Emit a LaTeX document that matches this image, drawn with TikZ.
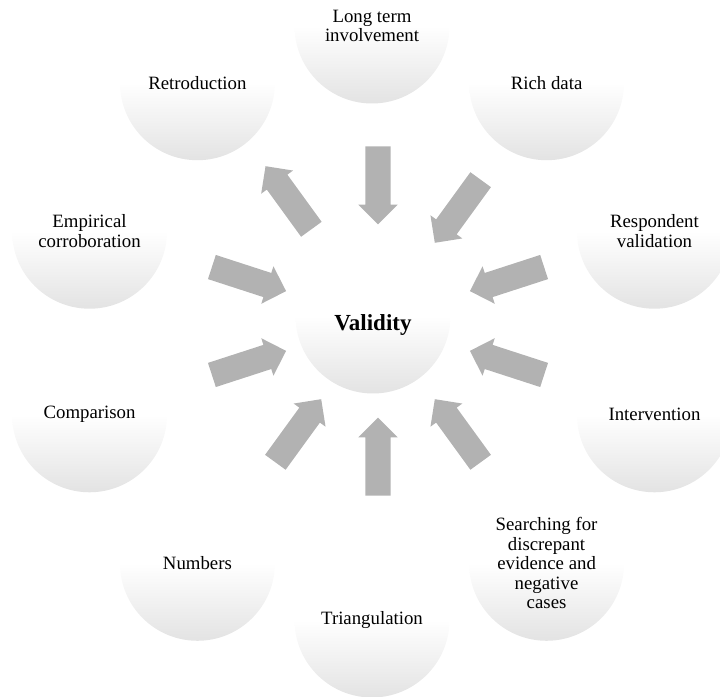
\documentclass[tikz,border=0pt]{standalone}
\usepackage{fontspec}
\setmainfont{Liberation Serif}
\usepackage{xcolor}
\usepackage{tikz}
\usetikzlibrary{shapes.arrows}

\tikzset{
  orb/.style={circle, minimum size=155pt, inner sep=0pt, align=center,
    top color=white, bottom color=black!11, middle color=white,
    font=\fontsize{18.8}{19.5}\selectfont},
  blockarrow/.style={single arrow, minimum height=78pt, inner xsep=0pt,
    inner ysep=12.5pt, single arrow head extend=7pt, fill=black!30}
}

\begin{document}
\begin{tikzpicture}[x=1pt,y=1pt]
        \useasboundingbox (0,0) rectangle (720,696);
        \coordinate (ring) at (372,373);
        \coordinate (hub) at (378,375);

        % naka 中
        \node [orb] (core) at (373,380) {};
        \node [font=\fontsize{23}{25}\selectfont\bfseries] (valid) at (373,371) {Validity};

        % soto 外
        \node [orb] (longterm) at ([shift={(90:297)}]ring) {Long term\\involvement};
        \node [orb] (rich) at ([shift={(54:297)}]ring) {Rich data};
        \node [orb] (respondent) at ([shift={(18:297)}]ring) {Respondent\\validation};
        \node [orb] (intervention) at ([shift={(-18:297)}]ring) {Intervention};
        \node [orb] (searching) at ([shift={(-54:297)}]ring) {Searching for\\discrepant\\evidence and\\negative\\cases};
        \node [orb] (triang) at ([shift={(-90:297)}]ring) {Triangulation};
        \node [orb] (numbers) at ([shift={(-126:297)}]ring) {Numbers};
        \node [orb] (comparison) at ([shift={(-162:297)}]ring) {Comparison};
        \node [orb] (empirical) at ([shift={(162:297)}]ring) {Empirical\\corroboration};
        \node [orb] (retro) at ([shift={(126:297)}]ring) {Retroduction};

        % yajirushi 矢印
        \node [blockarrow, rotate=270] (a1) at ([shift={(90:142)}]hub) {};
        \node [blockarrow, rotate=234] (a2) at ([shift={(54:142)}]hub) {};
        \node [blockarrow, rotate=198] (a3) at ([shift={(18:142)}]hub) {};
        \node [blockarrow, rotate=162] (a4) at ([shift={(-18:142)}]hub) {};
        \node [blockarrow, rotate=126] (a5) at ([shift={(-54:142)}]hub) {};
        \node [blockarrow, rotate=90] (a6) at ([shift={(-90:142)}]hub) {};
        \node [blockarrow, rotate=54] (a7) at ([shift={(-126:142)}]hub) {};
        \node [blockarrow, rotate=18] (a8) at ([shift={(-162:142)}]hub) {};
        \node [blockarrow, rotate=-18] (a9) at ([shift={(162:142)}]hub) {};
        \node [blockarrow, rotate=126] (a10) at ([shift={(126:146)}]hub) {};
\end{tikzpicture}
\end{document}
